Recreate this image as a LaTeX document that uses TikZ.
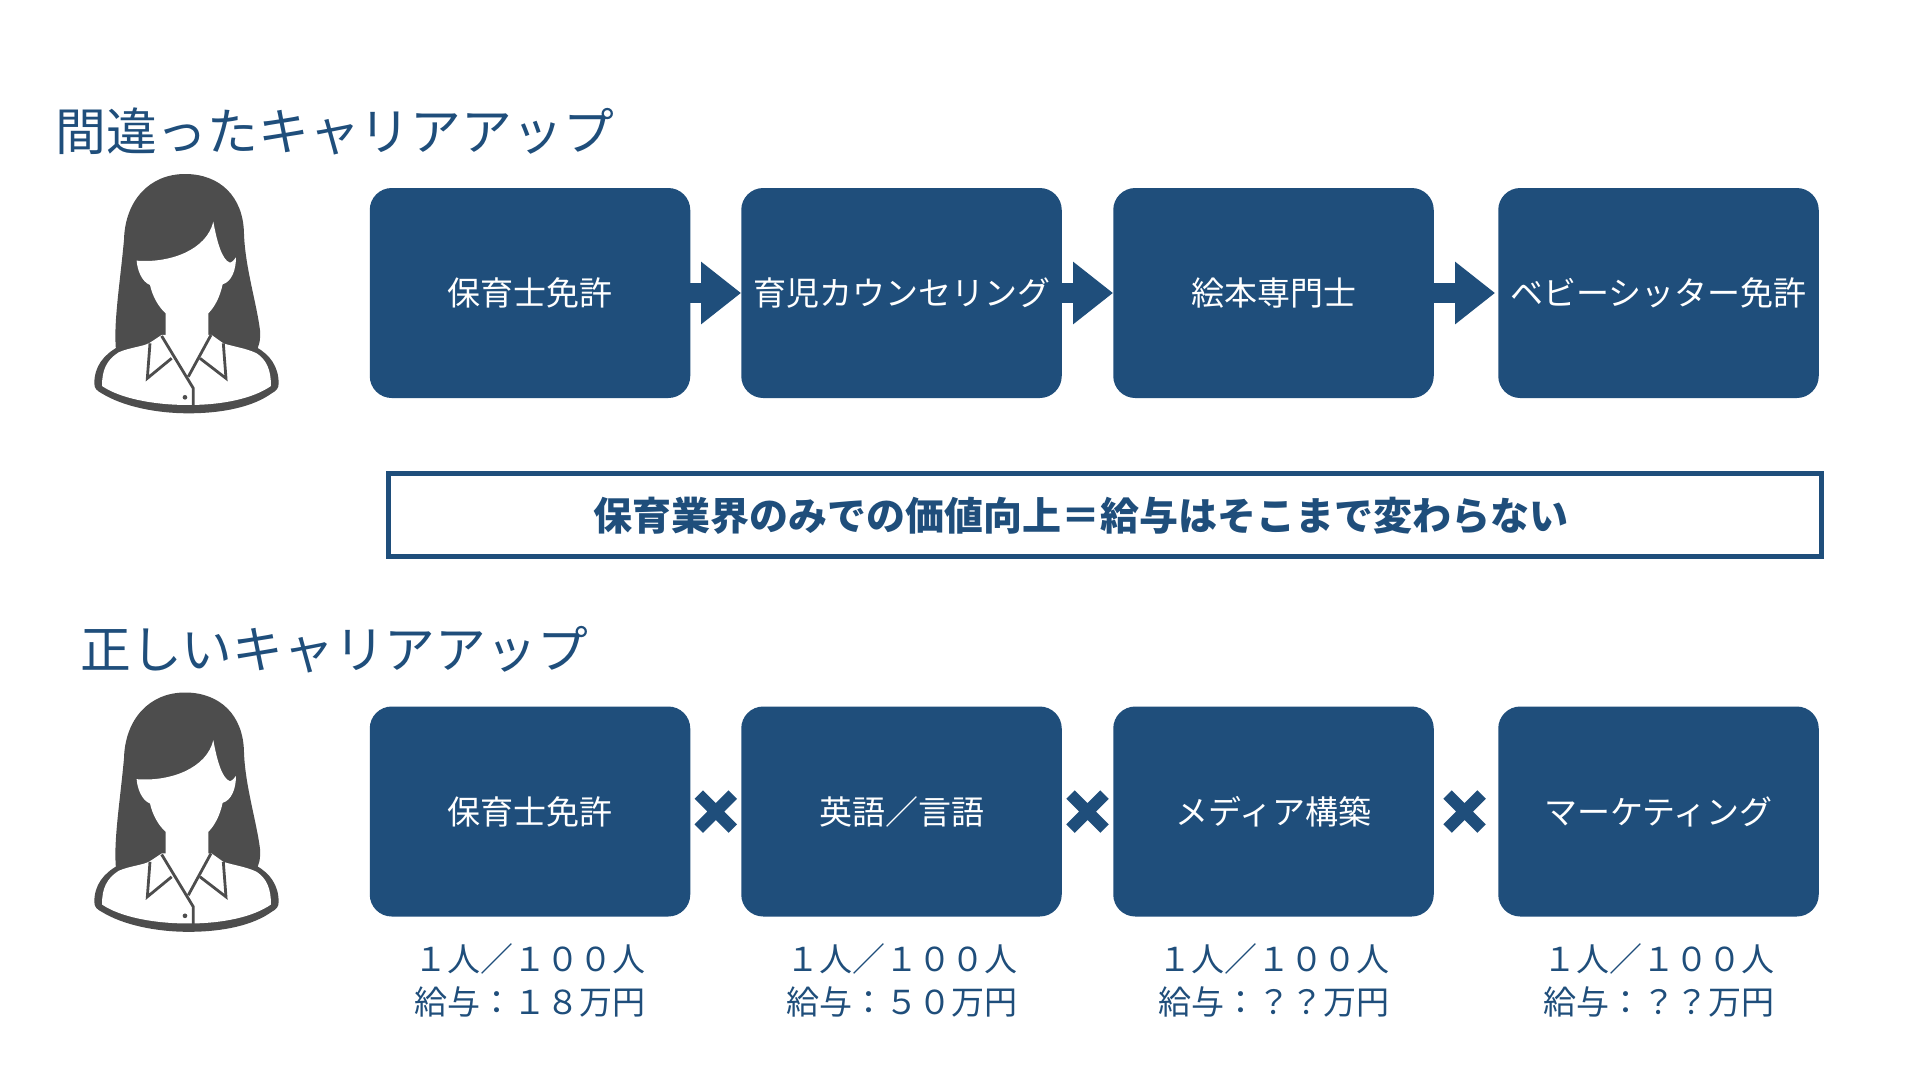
\documentclass[tikz,border=0pt]{standalone}
\usepackage{fontspec}
\setmainfont{Noto Sans CJK JP}
\usepackage{tikz}
\usetikzlibrary{shapes,shapes.misc,arrows.meta,positioning,calc}
\definecolor{navy}{HTML}{1F4E7B}
\definecolor{hair}{HTML}{4D4D4D}
\newcommand{\bigtext}{\fontsize{50.8}{60}\selectfont}
\newcommand{\boxtext}{\fontsize{33}{43}\selectfont}
\tikzset{
block/.style = {fill=navy, rectangle, rounded corners=22pt, minimum width=320.5pt, minimum height=210pt, inner sep=0pt, text=white, font=\boxtext, align = center},
heading/.style = {anchor=west, inner sep=0pt, text=navy, font=\bigtext},
banner/.style = {draw=navy, line width=5pt, rectangle, minimum width=1433pt, minimum height=83.5pt},
bannertext/.style = {inner sep=0pt, text=navy, font=\fontsize{39}{47}\selectfont\bfseries},
share/.style = {inner sep=0pt, text=navy, font=\boxtext, align = center},
flow/.style = {draw=navy, line width=20pt, -{Triangle[length=40pt,width=60pt]}},
times/.style = {draw=navy, cross out, line width=12pt, minimum size=34pt, inner sep=0pt, outer sep=0pt},
person/.pic = {
  \begin{scope}[x=.3333pt,y=-.3333pt]
  % hair
  \fill [hair] (168,600) .. controls (160,520) and (180,400) .. (192,270)
     .. controls (195,150) and (270,72) .. (375,72)
     .. controls (480,72) and (550,140) .. (552,250)
     .. controls (555,350) and (590,460) .. (600,540)
     .. controls (602,570) and (598,590) .. (585,610) -- cycle;
  % face
  \fill [white] (230,332) .. controls (330,340) and (440,300) .. (460,215)
     .. controls (470,270) and (485,330) .. (510,338)
     .. controls (520,335) and (525,325) .. (528,322)
     .. controls (528,360) and (515,395) .. (488,403)
     .. controls (480,440) and (465,470) .. (445,490)
     -- (445,600) -- (317,600) -- (317,490)
     .. controls (295,470) and (278,440) .. (270,405)
     .. controls (245,395) and (232,360) .. (230,332) -- cycle;
  % jacket
  \fill [hair] (175,590) .. controls (130,615) and (103,650) .. (103,700)
     .. controls (103,715) and (110,722) .. (125,730)
     .. controls (190,770) and (290,790) .. (385,790)
     .. controls (490,790) and (580,770) .. (635,730)
     .. controls (650,722) and (656,715) .. (656,700)
     .. controls (656,650) and (630,615) .. (590,592) -- cycle;
  \fill [white] (176,607) .. controls (210,592) and (250,590) .. (270,578)
     -- (305,555) -- (455,555) -- (490,580)
     .. controls (520,590) and (560,595) .. (590,610)
     .. controls (620,630) and (633,660) .. (633,708)
     .. controls (580,745) and (490,765) .. (385,765)
     .. controls (280,765) and (180,745) .. (126,708)
     .. controls (126,660) and (140,630) .. (176,607) -- cycle;
  % collar
  \draw [hair, line width=2.8pt, line join=miter] (270,580) -- (262,685) -- (335,625);
  \draw [hair, line width=2.8pt] (305,558) -- (400,715) -- (400,770);
  \draw [hair, line width=2.8pt] (453,555) -- (385,680);
  \draw [hair, line width=2.8pt, line join=miter] (420,625) -- (498,685) -- (490,580);
  \fill [hair] (375,742) circle (7);
  \end{scope}
},
}

\begin{document}
\begin{tikzpicture}[x=1pt,y=-1pt]
      \useasboundingbox (0,0) rectangle (1920,1080);
      \fill [white] (0,0) rectangle (1920,1080);
      % wrong way
      \node [heading,name=wronghead] at (55,131) {間違ったキャリアアップ};
      \pic (wrongperson) at (60,150) {person};
      \node [block,name=wrong1] at (530,293) {保育士免許};
      \node [block,name=wrong2,right of = wrong1,node distance = 371.5pt] {育児カウンセリング};
      \node [block,name=wrong3,right of = wrong2,node distance = 372pt] {絵本専門士};
      \node [block,name=wrong4,right of = wrong3,node distance = 385pt] {ベビーシッター免許};
      \draw [flow] (wrong1.east) -- (wrong2.west);
      \draw [flow] (wrong2.east) -- (wrong3.west);
      \draw [flow,shorten >=3pt] (wrong3.east) -- (wrong4.west);
      \node [banner,name=result] at (1104.5,515) {};
      \node [bannertext,name=resulttext,xshift=-23.5pt,yshift=-1pt] at (result.center) {保育業界のみでの価値向上＝給与はそこまで変わらない};
      % right way
      \node [heading,name=righthead] at (80,650) {正しいキャリアアップ};
      \pic (rightperson) at (60,668.5) {person};
      \node [block,name=right1] at (530,811.5) {保育士免許};
      \node [block,name=right2,right of = right1,node distance = 371.5pt] {英語／言語};
      \node [block,name=right3,right of = right2,node distance = 372pt] {メディア構築};
      \node [block,name=right4,right of = right3,node distance = 385pt] {マーケティング};
      \node [times,name=times1] at ($(right1.east)!0.5!(right2.west)$) {};
      \node [times,name=times2] at ($(right2.east)!0.5!(right3.west)$) {};
      \node [times,name=times3,xshift=-1.5pt] at ($(right3.east)!0.5!(right4.west)$) {};
      \node [share,name=share1,below of = right1,node distance = 169pt] {１人／１００人\\給与：１８万円};
      \node [share,name=share2,below of = right2,node distance = 169pt] {１人／１００人\\給与：５０万円};
      \node [share,name=share3,below of = right3,node distance = 169pt] {１人／１００人\\給与：？？万円};
      \node [share,name=share4,below of = right4,node distance = 169pt] {１人／１００人\\給与：？？万円};
\end{tikzpicture}
\end{document}
